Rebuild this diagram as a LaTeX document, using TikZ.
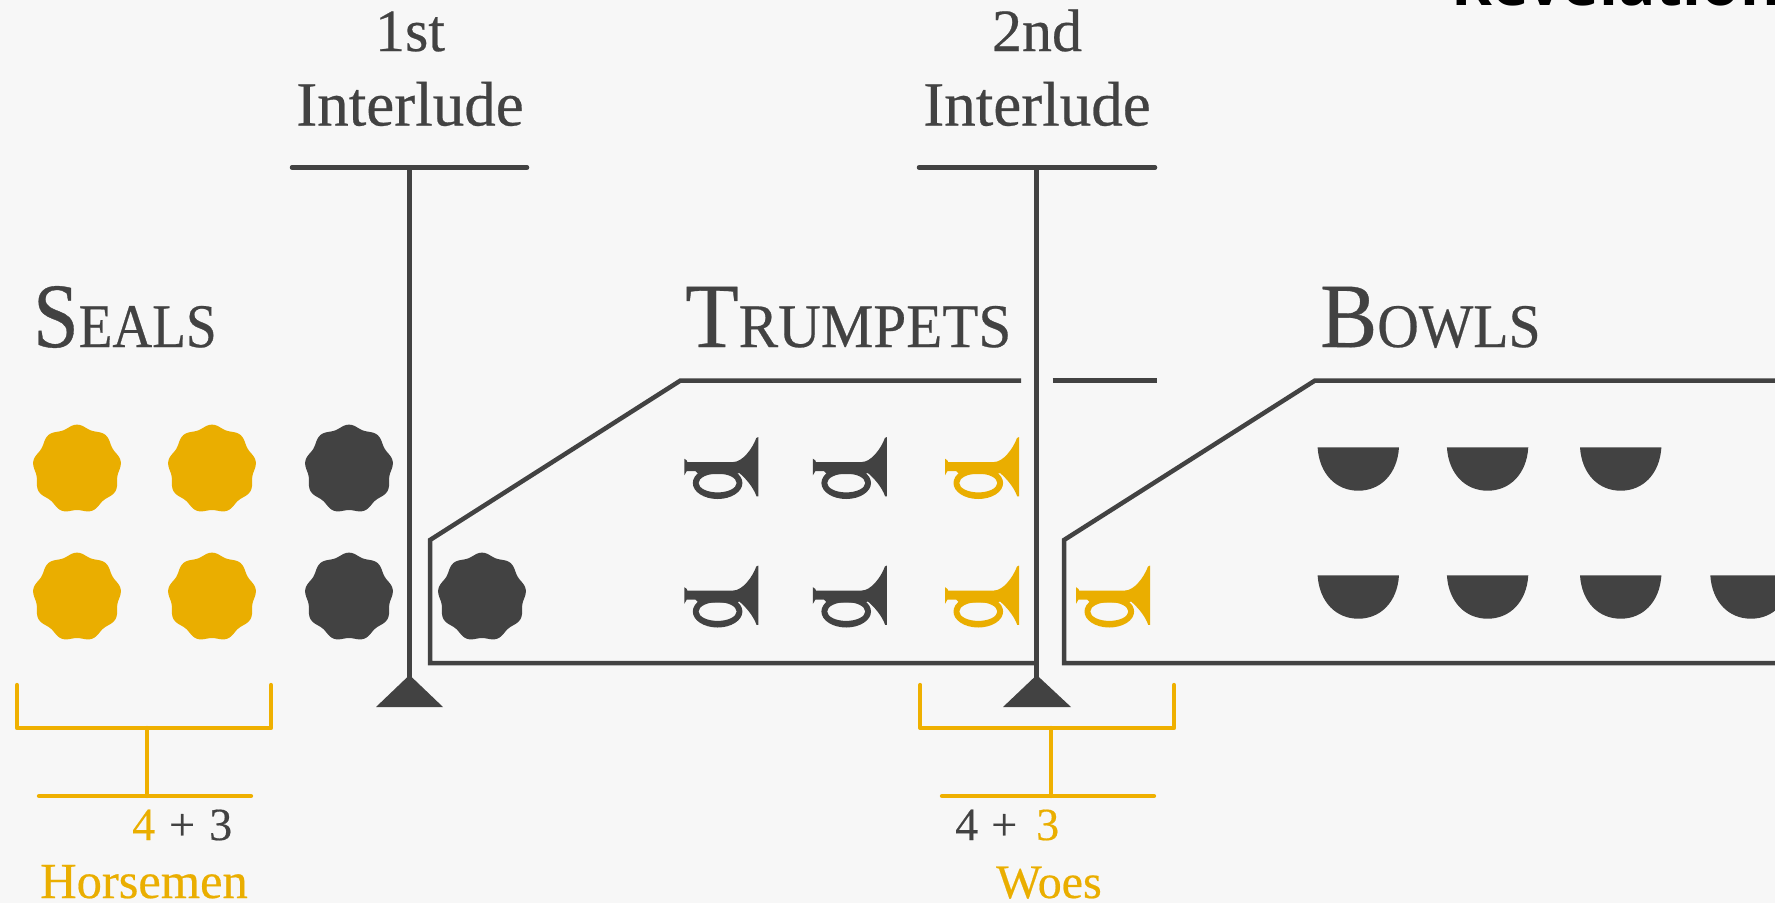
\documentclass[tikz,border=0pt]{standalone}
\usepackage{fontspec}
\setmainfont{Liberation Serif}[FakeBold=0.4]
\newfontfamily\headsans{Open Sans}[BoldFont={Open Sans Bold}]
\definecolor{ink}{HTML}{424242}
\definecolor{gold}{HTML}{EAAE00}
\definecolor{goldline}{HTML}{EFB000}
\definecolor{paper}{HTML}{F7F7F7}
\newcommand{\fs}[1]{\fontsize{#1}{#1}\selectfont}
\newcommand{\sealat}[3]{\fill[#3,xshift=#1pt,yshift=-#2pt,smooth] plot[domain=0:360,samples=109] ({(42.7+1.7*cos(9*(\x-270)))*cos(\x)},{(42.7+1.7*cos(9*(\x-270)))*sin(\x)}) -- cycle;}
\newcommand{\trumpetat}[3]{%
\begin{scope}[shift={(#1,#2)},#3]
\fill (0,21.7) -- (2.5,23.5) -- (3,25) -- (49,25) .. controls (58,25) and (68,12) .. (72,1) -- (74,0) -- (74,59.3) -- (72.2,59.3) .. controls (69,50) and (61,41) .. (55,36) -- (52,37) -- (14,37) -- (11,34) -- (2.5,34) -- (0,38.3) -- cycle;
\fill[even odd rule] (33.3,46) ellipse[x radius=24.8,y radius=16] (33.3,46) ellipse[x radius=19,y radius=9.4];
\end{scope}}
\newcommand{\bowlat}[2]{\fill[ink] (#1-40.7,#2) .. controls (#1-39,#2+27) and (#1-22,#2+43.4) .. (#1,#2+43.4) .. controls (#1+22,#2+43.4) and (#1+39,#2+27) .. (#1+40.7,#2) -- cycle;}
\tikzset{
 x=1pt,y=-1pt,
 rule/.style={draw=ink,line width=4.5pt},
 brace/.style={draw=goldline,line width=4.3pt,line cap=round,line join=round},
 serif/.style={inner sep=0pt,anchor=base,text=ink},
 head/.style={inner sep=0pt,anchor=base west,text=ink,xscale=#1,transform shape},
}
\begin{document}
\begin{tikzpicture}
\useasboundingbox (0,0) rectangle (1775,903);
\clip (0,0) rectangle (1775,903);
\fill[paper] (0,0) rectangle (1775,903);
% clipped title
\node[inner sep=0pt,anchor=base west,text=black] (title) at (1451,5) {\headsans\bfseries\fs{62}Revelation};
% interlude labels
\node[serif] (first1) at (410,51) {\fs{60}1st};
\node[serif] (first2) at (410,125.5) {\fs{63}Interlude};
\node[serif] (second1) at (1037,51) {\fs{60}2nd};
\node[serif] (second2) at (1037,125.5) {\fs{63}Interlude};
% headings
\node[head=0.89] (seals) at (33,347) {\fs{92}S\fs{62}EALS};
\node[head=0.953] (trumpets) at (685,347) {\fs{92}T\fs{62}RUMPETS};
\node[head=0.93] (bowls) at (1320,347) {\fs{92}B\fs{62}OWLS};
% interlude stems
\coordinate (a1) at (292,167.5); \coordinate (a2) at (527,167.5);
\coordinate (a3) at (409.5,167.5); \coordinate (a4) at (409.5,680);
\draw[rule,line cap=round] (a1) -- (a2);
\draw[rule] (a3) -- (a4);
\coordinate (t1a) at (409.5,675); \coordinate (t1b) at (376,707); \coordinate (t1c) at (443,707);
\fill[ink] (t1a) -- (t1b) -- (t1c) -- cycle;
\coordinate (b1) at (919,167.5); \coordinate (b2) at (1155,167.5);
\coordinate (b3) at (1036.7,167.5); \coordinate (b4) at (1036.7,680);
\draw[rule,line cap=round] (b1) -- (b2);
\draw[rule] (b3) -- (b4);
\coordinate (t2a) at (1036.7,675); \coordinate (t2b) at (1003,707); \coordinate (t2c) at (1071,707);
\fill[ink] (t2a) -- (t2b) -- (t2c) -- cycle;
% trumpets frame
\coordinate (p1) at (1021,380.5); \coordinate (p2) at (680.5,380.5); \coordinate (p3) at (430,540);
\coordinate (p4) at (430,663); \coordinate (p5) at (1036.7,663);
\draw[rule,line join=miter] (p1) -- (p2) -- (p3) -- (p4) -- (p5);
\coordinate (q1) at (1052.5,380.5); \coordinate (q2) at (1157,380.5);
\draw[rule] (q1) -- (q2);
% bowls frame
\coordinate (r1) at (1780,380.5); \coordinate (r2) at (1315,380.5); \coordinate (r3) at (1064,540);
\coordinate (r4) at (1064,663); \coordinate (r5) at (1780,663);
\draw[rule,line join=miter] (r1) -- (r2) -- (r3) -- (r4) -- (r5);
% seals
\sealat{77}{469}{gold}\sealat{212}{469}{gold}\sealat{349}{469}{ink}
\sealat{77}{597}{gold}\sealat{212}{597}{gold}\sealat{349}{597}{ink}\sealat{482}{597}{ink}
% trumpets
\trumpetat{684.3}{437}{ink}\trumpetat{812.9}{437}{ink}\trumpetat{945}{437}{gold}
\trumpetat{684.3}{565.5}{ink}\trumpetat{812.9}{565.5}{ink}\trumpetat{945}{565.5}{gold}\trumpetat{1076}{565.5}{gold}
% bowls
\bowlat{1358.3}{447.3}\bowlat{1487.6}{447.3}\bowlat{1620.7}{447.3}
\bowlat{1358.3}{575.3}\bowlat{1487.6}{575.3}\bowlat{1620.7}{575.3}\bowlat{1751}{575.3}
% brackets
\coordinate (c1) at (17,685); \coordinate (c2) at (17,728); \coordinate (c3) at (271,728); \coordinate (c4) at (271,685);
\coordinate (c5) at (147.3,728); \coordinate (c6) at (147.3,796); \coordinate (c7) at (39,796); \coordinate (c8) at (251,796);
\draw[brace] (c1) -- (c2) -- (c3) -- (c4);
\draw[brace] (c5) -- (c6);
\draw[brace] (c7) -- (c8);
\coordinate (d1) at (920.3,685); \coordinate (d2) at (920.3,728); \coordinate (d3) at (1174,728); \coordinate (d4) at (1174,685);
\coordinate (d5) at (1050.7,728); \coordinate (d6) at (1050.7,796); \coordinate (d7) at (942,796); \coordinate (d8) at (1154,796);
\draw[brace] (d1) -- (d2) -- (d3) -- (d4);
\draw[brace] (d5) -- (d6);
\draw[brace] (d7) -- (d8);
% counts
\node[serif,anchor=base west] (n1) at (132,840) {\fs{46}\textcolor{gold}{4}};
\node[serif,anchor=base west] (n2) at (169,840) {\fs{46}+};
\node[serif,anchor=base west] (n3) at (209,840) {\fs{46}3};
\node[serif,text=gold] (horse) at (144,898) {\fs{50.5}Horsemen};
\node[serif,anchor=base west] (m1) at (955,840) {\fs{46}4};
\node[serif,anchor=base west] (m2) at (991,840) {\fs{46}+};
\node[serif,anchor=base west] (m3) at (1036,840) {\fs{46}\textcolor{gold}{3}};
\node[serif,text=gold] (woes) at (1049,898) {\fs{48}Woes};
\end{tikzpicture}
\end{document}
